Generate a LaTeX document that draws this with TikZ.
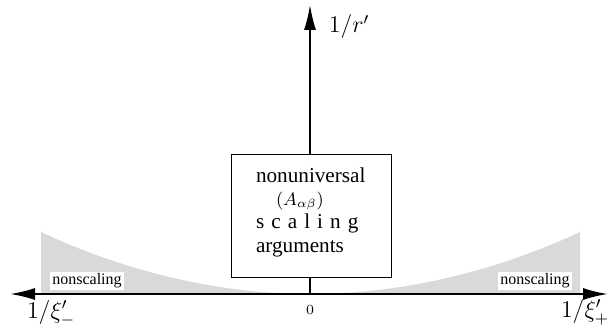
\documentclass[tikz,border=0pt]{standalone}
\usepackage{fontspec}
\setmainfont{Liberation Serif}
\usepackage{tikz}
\usetikzlibrary{arrows.meta,positioning}
\definecolor{ink}{HTML}{000000}
\definecolor{lightgray}{HTML}{D9D9D9}
\tikzset{
  >={Latex[length=12.5pt,width=6pt]},
  every node/.style={text=ink},
  axisline/.style={<->,line width=1pt,draw=ink},
  rline/.style={->,line width=0.75pt,draw=ink},
  regionbox/.style={draw=ink,line width=0.5pt,fill=white,align=left,text width=55pt,
    inner xsep=12.5pt,inner ysep=5pt,minimum height=61.5pt,font=\fontsize{10.6}{11.6}\selectfont},
  tag/.style={fill=white,inner sep=1pt,font=\footnotesize},
  axlabel/.style={font=\large,inner sep=1pt}
}
\begin{document}
\begin{tikzpicture}[x=0.5pt,y=0.5pt]
  \useasboundingbox (0,0) rectangle (611,327);
  \coordinate (xminus) at (10,33);
  \coordinate (xplus) at (608,33);
  \coordinate (origin) at (310,33);
  \coordinate (rtop) at (310,322);

  % nonscaling region
  \fill[lightgray] (41,33) -- (41,95) parabola bend (310,33) (580,95) -- (580,33) -- cycle;

  \draw[rline] (origin)--(rtop);
  \draw[axisline] (xminus)--(xplus);

  \node[regionbox] (box) at (311,110.5) {nonuniversal\\\hspace*{10pt}{\small$(A_{\alpha\beta})$}\\s c a l i n g\\arguments\\[-5pt]\mbox{}};

  \node[tag] (leftnon) at (87,46) {nonscaling};
  \node[tag] (rightnon) at (535,46) {nonscaling};

  \node[axlabel] (rlabel) at (349,300) {$1/r'$};
  \node[axlabel] (ximinus) at (51,14) {$1/\xi'_-$};
  \node[axlabel] (xiplus) at (585,15) {$1/\xi'_+$};
  \node[font=\scriptsize] (zero) at (310,17) {$0$};
\end{tikzpicture}
\end{document}
